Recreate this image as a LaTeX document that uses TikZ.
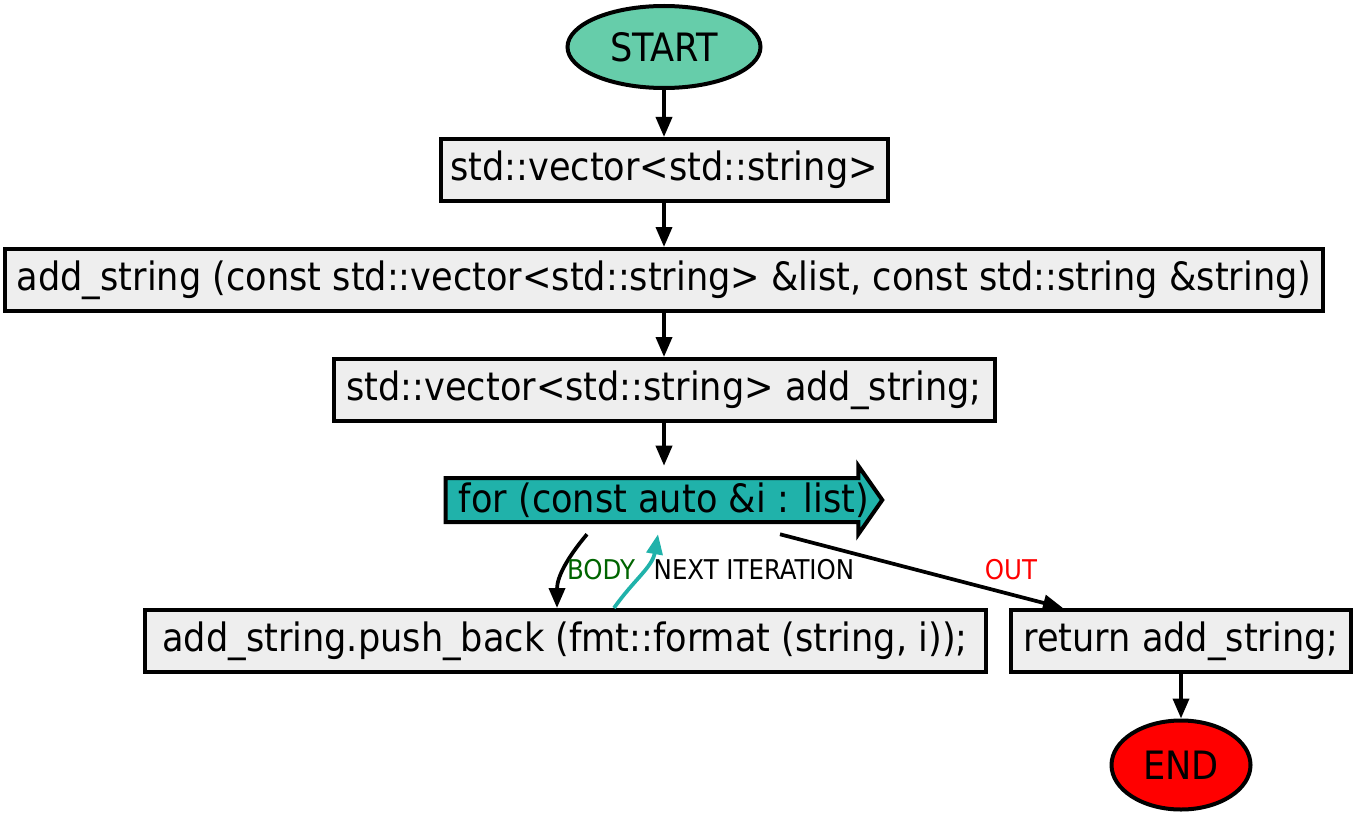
\documentclass[tikz,border=0pt]{standalone}
\usepackage{fontspec}
\setmainfont{DejaVu Sans Condensed}
\usetikzlibrary{arrows.meta,shapes.geometric,calc,backgrounds}
\definecolor{boxgray}{HTML}{EEEEEE}
\definecolor{loopteal}{HTML}{20B2AA}
\definecolor{startgreen}{HTML}{66CDAA}
\definecolor{bodygreen}{HTML}{006400}
\def\px{0.75pt}
\tikzset{%
        x = \px,
        y = -\px,
        >={Triangle[length=15pt,width=12pt]}
}
\tikzstyle{box}=[
    draw = black,
    fill = boxgray,
    line width = 3pt,
    inner sep = 0pt,
    minimum height = 62*\px,
    font = \fontsize{29.3}{34}\selectfont
]
\tikzstyle{term}=[
    ellipse,
    draw = black,
    line width = 3pt,
    inner sep = 0pt,
    font = \fontsize{29.3}{34}\selectfont
]
\tikzstyle{flow}=[
    ->,
    draw = black,
    line width = 2.8pt
]
\tikzstyle{lbl}=[
    inner sep = 0pt,
    font = \fontsize{20.4}{24}\selectfont
]

\begin{document}
\begin{tikzpicture}
            \useasboundingbox (0,0) rectangle (1356,813);
            \node[term, fill=startgreen, minimum width=193*\px, minimum height=82*\px] (start) at (664,47) {START};
            \node[box, minimum width=447*\px] (vec) at (664,170) {std::vector<std::string>};
            \node[box, minimum width=1318*\px] (sig) at (664,280) {add\_string (const std::vector<std::string> \&list, const std::string \&string)};
            \node[box, minimum width=661*\px] (decl) at (664,390) {std::vector<std::string> add\_string;};
            \node[inner sep=0pt, minimum width=436*\px, minimum height=68*\px, font=\fontsize{29.3}{34}\selectfont] (for) at (664,500) {for (const auto \&i : list)};
            \node[box, minimum width=841*\px] (push) at (565,641) {add\_string.push\_back (fmt::format (string, i));};
            \node[box, minimum width=340*\px] (ret) at (1181,641) {return add\_string;};
            \node[term, fill=red, minimum width=139*\px, minimum height=89*\px] (end) at (1181,765) {END};
            % loop head shape
            \begin{scope}[on background layer]
            \filldraw[fill=loopteal, line width=3pt, line join=miter]
            ($(for.west)+(0,-22)$) -- ($(for.east)+(-24,-22)$) -- ($(for.north east)+(-24,0)$)
            -- (for.east) -- ($(for.south east)+(-24,0)$) -- ($(for.east)+(-24,22)$)
            -- ($(for.west)+(0,22)$) -- cycle;
            \end{scope}
            \draw[flow] (start) -- (vec);
            \draw[flow] (vec) -- (sig);
            \draw[flow] (sig) -- (decl);
            \draw[flow] (decl) -- (for);
            \draw[flow] ([xshift=-77*\px]for.south) to[out=-130,in=90] ([xshift=-8*\px]push.north);
            \draw[flow, draw=loopteal, color=loopteal] ([xshift=49*\px]push.north) to[out=55,in=-100] ([xshift=-6*\px]for.south);
            \draw[flow] ([xshift=116*\px]for.south) -- ([xshift=-118*\px]ret.north);
            \draw[flow] (ret) -- (end);
            \node[lbl, text=bodygreen] (bodylbl) at (601,570) {BODY};
            \node[lbl] (nextlbl) at (754,570) {NEXT ITERATION};
            \node[lbl, text=red] (outlbl) at (1011,570) {OUT};
        \end{tikzpicture}
\end{document}
